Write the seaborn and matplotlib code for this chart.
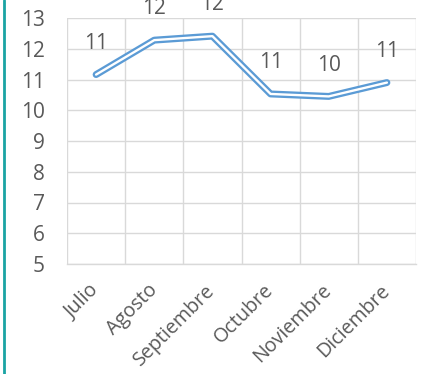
import matplotlib
matplotlib.use("Agg")
import matplotlib.pyplot as plt
import matplotlib.patheffects as pe
import matplotlib.transforms as mtransforms
from matplotlib.lines import Line2D
import seaborn as sns
import pandas as pd

meses = ["Julio", "Agosto", "Septiembre", "Octubre", "Noviembre", "Diciembre"]
valores = [11.16, 12.28, 12.41, 10.53, 10.45, 10.90]
y_ticks = [5, 6, 7, 8, 9, 10, 11, 12, 13]

sns.set_theme(style="white")
plt.rcParams["font.family"] = ["Open Sans", "DejaVu Sans"]

texto = "#595959"
rejilla = "#D9D9D9"
azul = "#5B9BD5"

df = pd.DataFrame({"pos": range(len(meses)), "mes": meses, "valor": valores})

fig = plt.figure(figsize=(4.21, 3.74), dpi=100)
ax = fig.add_axes([67 / 421, 110 / 374, 349 / 421, 246 / 374])

sns.lineplot(data=df, x="pos", y="valor", ax=ax, color="white", linewidth=1.7,
             path_effects=[pe.Stroke(linewidth=5.0, foreground=azul), pe.Normal()],
             clip_on=False, zorder=3)

for x, v in zip(df["pos"], df["valor"]):
    ax.annotate(f"{round(v):d}", (x, v), xytext=(0, 22.5), textcoords="offset points",
                ha="center", va="center", fontsize=15, color=texto,
                annotation_clip=False)

ax.set_xlim(-0.5, len(meses) - 0.5)
ax.set_ylim(5, 13)
ax.set_yticks(y_ticks)
ax.set_yticklabels([str(t) for t in y_ticks], fontsize=15, color=texto)
ax.set_xticks(range(len(meses)))
ax.set_xticklabels(meses, fontsize=14.2, color=texto, rotation=45,
                   ha="right", va="center", rotation_mode="anchor")
desplazar = mtransforms.ScaledTranslation(4 / 100, 0, fig.dpi_scale_trans)
for etiqueta in ax.get_xticklabels():
    etiqueta.set_transform(etiqueta.get_transform() + desplazar)
ax.set_xticks([i - 0.5 for i in range(len(meses) + 1)], minor=True)
ax.tick_params(axis="both", which="both", length=0)
ax.tick_params(axis="y", pad=16)
ax.tick_params(axis="x", pad=17)
ax.set_xlabel("")
ax.set_ylabel("")

ax.grid(True, axis="y", which="major", color=rejilla, linewidth=1)
ax.grid(True, axis="x", which="minor", color=rejilla, linewidth=1)
ax.grid(False, axis="x", which="major")
ax.set_axisbelow(True)
for lado, sp in ax.spines.items():
    sp.set_visible(lado == "bottom")
    sp.set_color(rejilla)
    sp.set_linewidth(1)

fig.add_artist(Line2D([3.5 / 421, 3.5 / 421], [0, 1], color="#1AA3A3",
                      linewidth=2, transform=fig.transFigure))

fig.savefig("out.png", dpi=100)
